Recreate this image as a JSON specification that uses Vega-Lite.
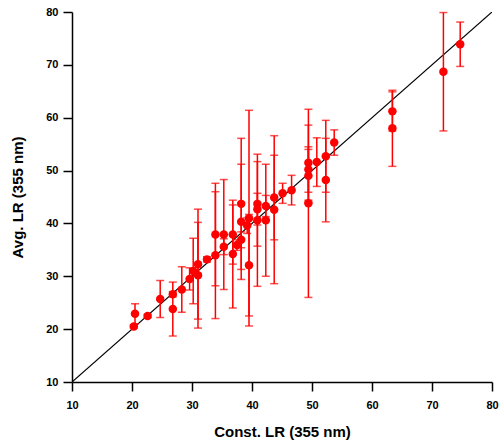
{
  "$schema": "https://vega.github.io/schema/vega-lite/v6.json",
  "autosize": {"type": "none"},
  "padding": {"left": 72, "top": 12, "right": 8, "bottom": 63},
  "width": 420,
  "height": 370,
  "background": "white",
  "config": {
    "view": {"stroke": null},
    "font": "Liberation Sans",
    "axis": {
      "grid": false,
      "labelFlush": false,
      "domainColor": "black",
      "domainWidth": 1.5,
      "tickColor": "black",
      "tickWidth": 1.5,
      "tickSize": 9,
      "labelFont": "Liberation Sans",
      "labelFontWeight": "bold",
      "labelFontSize": 11,
      "labelColor": "black",
      "titleFont": "Liberation Sans",
      "titleFontWeight": "bold",
      "titleFontSize": 15,
      "titleColor": "black"
    }
  },
  "datasets": {
    "pts": [
      {"const": 20.3, "avg": 20.5, "lo": 20.2, "hi": 20.8},
      {"const": 20.5, "avg": 22.9, "lo": 21.0, "hi": 24.8},
      {"const": 22.6, "avg": 22.5, "lo": 22.2, "hi": 22.8},
      {"const": 24.7, "avg": 25.7, "lo": 22.2, "hi": 29.2},
      {"const": 26.8, "avg": 23.8, "lo": 18.7, "hi": 28.9},
      {"const": 26.8, "avg": 26.6, "lo": 26.1, "hi": 27.1},
      {"const": 28.3, "avg": 27.5, "lo": 23.2, "hi": 31.8},
      {"const": 29.6, "avg": 29.5, "lo": 27.4, "hi": 31.6},
      {"const": 30.2, "avg": 31.0, "lo": 24.8, "hi": 37.2},
      {"const": 31.0, "avg": 32.3, "lo": 21.9, "hi": 42.7},
      {"const": 31.0, "avg": 30.2, "lo": 20.2, "hi": 40.2},
      {"const": 32.5, "avg": 33.2, "lo": 32.7, "hi": 33.7},
      {"const": 33.9, "avg": 37.9, "lo": 28.2, "hi": 47.6},
      {"const": 33.9, "avg": 34.0, "lo": 22.0, "hi": 46.0},
      {"const": 35.3, "avg": 37.9, "lo": 27.5, "hi": 48.3},
      {"const": 35.3, "avg": 35.6, "lo": 34.1, "hi": 37.1},
      {"const": 36.8, "avg": 37.9, "lo": 32.3, "hi": 43.5},
      {"const": 36.8, "avg": 34.2, "lo": 24.0, "hi": 44.4},
      {"const": 37.5, "avg": 35.9, "lo": 34.9, "hi": 36.9},
      {"const": 38.2, "avg": 43.7, "lo": 31.3, "hi": 56.1},
      {"const": 38.2, "avg": 40.3, "lo": 29.4, "hi": 51.2},
      {"const": 38.2, "avg": 36.9, "lo": 35.4, "hi": 38.4},
      {"const": 39.2, "avg": 39.6, "lo": 38.1, "hi": 41.1},
      {"const": 39.5, "avg": 41.0, "lo": 20.6, "hi": 61.4},
      {"const": 39.5, "avg": 32.1, "lo": 22.5, "hi": 41.7},
      {"const": 40.9, "avg": 43.7, "lo": 35.7, "hi": 51.7},
      {"const": 40.9, "avg": 42.7, "lo": 39.7, "hi": 45.7},
      {"const": 40.9, "avg": 40.6, "lo": 28.1, "hi": 53.1},
      {"const": 42.3, "avg": 43.3, "lo": 41.3, "hi": 45.3},
      {"const": 42.3, "avg": 40.6, "lo": 30.0, "hi": 51.2},
      {"const": 43.7, "avg": 44.9, "lo": 36.9, "hi": 52.9},
      {"const": 43.7, "avg": 42.6, "lo": 28.6, "hi": 56.6},
      {"const": 45.1, "avg": 45.7, "lo": 43.8, "hi": 47.6},
      {"const": 46.6, "avg": 46.3, "lo": 43.5, "hi": 49.1},
      {"const": 49.4, "avg": 51.5, "lo": 44.4, "hi": 58.6},
      {"const": 49.4, "avg": 50.2, "lo": 45.9, "hi": 54.5},
      {"const": 49.4, "avg": 49.0, "lo": 44.0, "hi": 54.0},
      {"const": 49.4, "avg": 43.8, "lo": 26.0, "hi": 61.6},
      {"const": 50.8, "avg": 51.6, "lo": 47.0, "hi": 56.2},
      {"const": 52.3, "avg": 52.7, "lo": 45.9, "hi": 59.5},
      {"const": 52.3, "avg": 48.2, "lo": 40.3, "hi": 56.1},
      {"const": 53.7, "avg": 55.3, "lo": 52.9, "hi": 57.7},
      {"const": 63.4, "avg": 61.2, "lo": 57.5, "hi": 64.9},
      {"const": 63.4, "avg": 58.0, "lo": 50.8, "hi": 65.2},
      {"const": 71.9, "avg": 68.7, "lo": 57.5, "hi": 79.9},
      {"const": 74.7, "avg": 73.9, "lo": 69.7, "hi": 78.1}
    ],
    "line": [
      {"const": 10, "avg": 10},
      {"const": 80, "avg": 80}
    ]
  },
  "layer": [
    {
      "data": {"name": "line"},
      "mark": {"type": "line", "color": "black", "strokeWidth": 1.2, "clip": true},
      "encoding": {
        "x": {"field": "const", "type": "quantitative", "title": "Const. LR (355 nm)",
              "scale": {"domain": [10, 80], "nice": false, "padding": 0},
              "axis": {"values": [10, 20, 30, 40, 50, 60, 70, 80], "labelPadding": 8, "titlePadding": 14}},
        "y": {"field": "avg", "type": "quantitative", "title": "Avg. LR (355 nm)",
              "scale": {"domain": [10, 80], "nice": false, "padding": 0},
              "axis": {"values": [10, 20, 30, 40, 50, 60, 70, 80], "labelPadding": 5, "titlePadding": 20}}
      }
    },
    {
      "data": {"name": "pts"},
      "mark": {"type": "errorbar", "color": "#ff0000", "thickness": 1.5, "ticks": {"size": 8, "thickness": 1.5, "color": "#ff0000"}},
      "encoding": {
        "x": {"field": "const", "type": "quantitative", "title": "Const. LR (355 nm)"},
        "y": {"field": "lo", "type": "quantitative", "title": "Avg. LR (355 nm)"},
        "y2": {"field": "hi"}
      }
    },
    {
      "data": {"name": "pts"},
      "mark": {"type": "circle", "color": "#ff0000", "opacity": 1, "size": 72},
      "encoding": {
        "x": {"field": "const", "type": "quantitative", "title": "Const. LR (355 nm)"},
        "y": {"field": "avg", "type": "quantitative", "title": "Avg. LR (355 nm)"}
      }
    }
  ]
}
